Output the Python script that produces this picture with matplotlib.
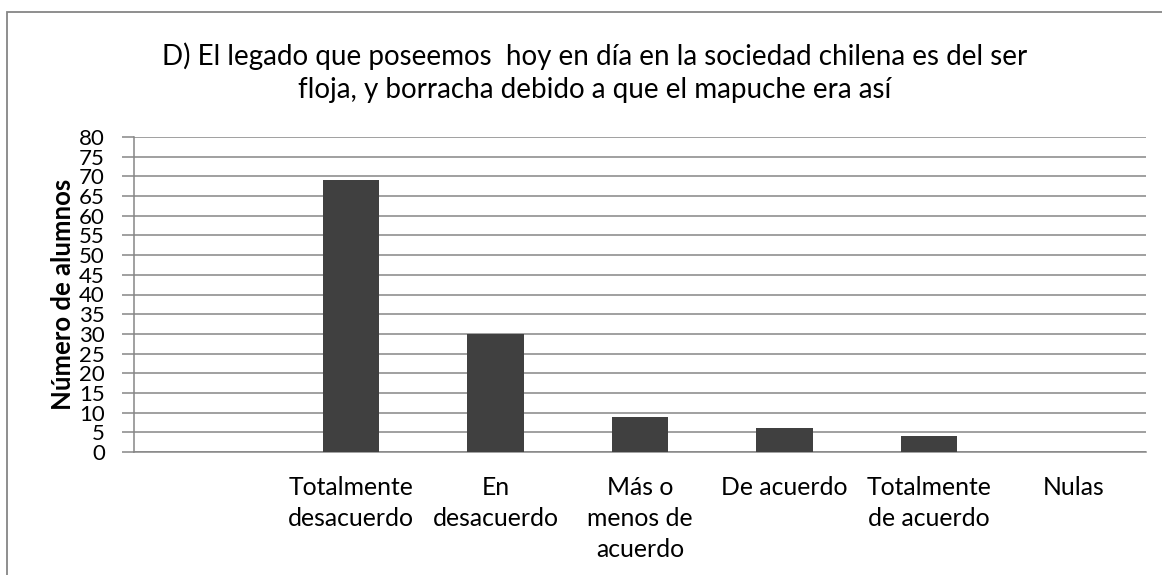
import numpy as np
import matplotlib.pyplot as plt
from matplotlib.patches import Rectangle

# data
categories = ["", "Totalmente\ndesacuerdo", "En\ndesacuerdo", "Más o\nmenos de\nacuerdo",
              "De acuerdo", "Totalmente\nde acuerdo", "Nulas"]
values = [0, 69, 30, 9, 6, 4, 0]
yticks = list(range(0, 85, 5))
title = ("D) El legado que poseemos  hoy en día en la sociedad chilena es del ser\n"
         "floja, y borracha debido a que el mapuche era así")

plt.rcParams['font.family'] = ['Lato', 'DejaVu Sans']
grey = '#868686'

W, H = 1162, 575
fig = plt.figure(figsize=(W / 100, H / 100), dpi=100)
ax = fig.add_axes([134 / W, 1 - 452 / H, (1146 - 134) / W, (452 - 137) / H])

x = np.arange(len(categories))
ax.bar(x, values, width=0.39, color='#404040', zorder=3)

ax.set_xlim(-0.5, len(categories) - 0.5)
ax.set_ylim(0, 80)
ax.set_yticks(yticks)
ax.set_yticklabels([str(t) for t in yticks], fontsize=16)
ax.set_xticks(x)
ax.set_xticklabels(categories, fontsize=17.8, linespacing=1.42, va='top')
ax.tick_params(axis='x', length=0, pad=17)
ax.tick_params(axis='y', length=9, width=1.1, color=grey, pad=12)

ax.grid(axis='y', color=grey, linewidth=1.1, zorder=0)
for side in ['top', 'right']:
    ax.spines[side].set_visible(False)
for side in ['left', 'bottom']:
    ax.spines[side].set_color(grey)
    ax.spines[side].set_linewidth(1.1)

ax.set_ylabel("Número de alumnos", fontsize=18.5, fontweight='bold', labelpad=3)
fig.text(595 / W, 1 - 73 / H, title, ha='center', va='center', fontsize=20,
         linespacing=1.32)

# outer chart frame (cut off on right and bottom in the reference)
fig.patches.append(Rectangle((7 / W, -0.1), 1.2, 1.1 - 12 / H, transform=fig.transFigure,
                             fill=False, edgecolor=grey, linewidth=1.3))

fig.savefig('out.png', dpi=100)
